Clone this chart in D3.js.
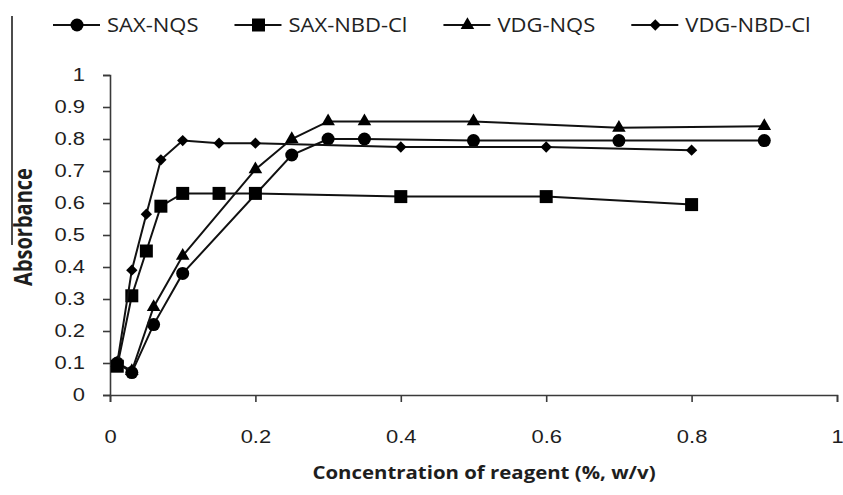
<!DOCTYPE html>
<html>
  <head>
    <meta charset="utf-8">
    <title>Absorbance vs concentration of reagent</title>
    <script src="https://cdnjs.cloudflare.com/ajax/libs/d3/7.8.5/d3.min.js"></script>
    <style>
      body { margin: 0; background: #fff; }
      svg { display: block; font-family: "Open Sans", sans-serif; }
      .axis path, .axis line { stroke: #3a3a3a; stroke-width: 1.6; }
      .axis text { font-size: 18px; fill: #1e1e1e; }
      .series path.line { fill: none; stroke: #111; stroke-width: 2; }
      .legend text { font-size: 20px; fill: #222; }
    </style>
  </head>
  <body>
    <svg id="chart" width="843" height="495"></svg>
    <script>
      // data
      var seriesNames = ["SAX-NQS", "SAX-NBD-Cl", "VDG-NQS", "VDG-NBD-Cl"];
      var saxNqsX = [0.01, 0.03, 0.06, 0.1, 0.25, 0.3, 0.35, 0.5, 0.7, 0.9];
      var saxNqsY = [0.10, 0.07, 0.22, 0.38, 0.75, 0.80, 0.80, 0.795, 0.795, 0.795];
      var saxNbdX = [0.01, 0.03, 0.05, 0.07, 0.1, 0.15, 0.2, 0.4, 0.6, 0.8];
      var saxNbdY = [0.09, 0.31, 0.45, 0.59, 0.63, 0.63, 0.63, 0.62, 0.62, 0.595];
      var vdgNqsX = [0.01, 0.03, 0.06, 0.1, 0.2, 0.25, 0.3, 0.35, 0.5, 0.7, 0.9];
      var vdgNqsY = [0.10, 0.075, 0.275, 0.435, 0.705, 0.80, 0.855, 0.855, 0.855, 0.835, 0.84];
      var vdgNbdX = [0.01, 0.03, 0.05, 0.07, 0.1, 0.15, 0.2, 0.4, 0.6, 0.8];
      var vdgNbdY = [0.10, 0.39, 0.565, 0.735, 0.795, 0.787, 0.787, 0.775, 0.775, 0.765];
      var xTicks = [0, 0.2, 0.4, 0.6, 0.8, 1];
      var yTicks = [0, 0.1, 0.2, 0.3, 0.4, 0.5, 0.6, 0.7, 0.8, 0.9, 1];

      var svg = d3.select("#chart");
      var sx = 1.22; // picture is stretched sideways, so is the text

      var x = d3.scaleLinear().domain([0, 1]).range([110, 837]);
      var y = d3.scaleLinear().domain([0, 1]).range([395, 75]);

      // stray rule at the left edge
      svg.append("line")
        .attr("x1", 12).attr("x2", 12)
        .attr("y1", 16).attr("y2", 245)
        .attr("stroke", "#111").attr("stroke-width", 1.5);

      // axes
      var yAxis = svg.append("g")
        .attr("class", "axis")
        .attr("transform", "translate(" + x(0) + ",0)")
        .call(d3.axisLeft(y).tickValues(yTicks).tickSize(7).tickSizeOuter(7).tickFormat(d3.format("~g")));
      yAxis.selectAll("text")
        .attr("x", -25 / sx)
        .attr("transform", "scale(" + sx + ",1)");

      var xAxis = svg.append("g")
        .attr("class", "axis")
        .attr("transform", "translate(0," + y(0) + ")")
        .call(d3.axisBottom(x).tickValues(xTicks).tickSize(7).tickSizeOuter(7).tickFormat(d3.format("~g")));
      xAxis.selectAll("text")
        .attr("y", 48)
        .attr("dy", 0)
        .attr("transform", "scale(" + sx + ",1)");

      // axis titles
      svg.append("text")
        .attr("transform", "translate(23,227) rotate(-90) scale(1,1.25)")
        .attr("text-anchor", "middle")
        .attr("dy", "0.35em")
        .style("font-size", "20px")
        .style("font-weight", "bold")
        .style("fill", "#1e1e1e")
        .text("Absorbance");
      svg.append("text")
        .attr("transform", "translate(484,479) scale(1.2,1)")
        .attr("text-anchor", "middle")
        .style("font-size", "17px")
        .style("font-weight", "bold")
        .style("fill", "#1e1e1e")
        .text("Concentration of reagent (%, w/v)");

      // series
      var symbols = [
        d3.symbol().type(d3.symbolCircle).size(133),
        d3.symbol().type(d3.symbolSquare).size(169),
        d3.symbol().type(d3.symbolTriangle).size(80),
        d3.symbol().type(d3.symbolSquare).size(64)
      ];
      var rotations = [0, 0, 0, 45];
      var series = [
        { name: seriesNames[0], xs: saxNqsX, ys: saxNqsY },
        { name: seriesNames[1], xs: saxNbdX, ys: saxNbdY },
        { name: seriesNames[2], xs: vdgNqsX, ys: vdgNqsY },
        { name: seriesNames[3], xs: vdgNbdX, ys: vdgNbdY }
      ];
      var line = d3.line()
        .x(function(d) { return x(d[0]); })
        .y(function(d) { return y(d[1]); });

      series.forEach(function(s, i) {
        var pts = s.xs.map(function(v, j) { return [v, s.ys[j]]; });
        var g = svg.append("g").attr("class", "series");
        g.append("path")
          .attr("class", "line")
          .attr("d", line(pts));
        g.selectAll(".mark")
          .data(pts)
          .enter().append("path")
            .attr("class", "mark")
            .attr("d", symbols[i])
            .attr("fill", "#000")
            .attr("transform", function(d) {
              return "translate(" + x(d[0]) + "," + y(d[1]) + ") rotate(" + rotations[i] + ")";
            });
      });

      // legend, laid out left to right
      var legend = svg.append("g").attr("class", "legend");
      var cursor = 53;
      seriesNames.forEach(function(name, i) {
        var item = legend.append("g").attr("transform", "translate(" + cursor + ",25)");
        item.append("line")
          .attr("x1", 0).attr("x2", 47)
          .attr("stroke", "#111").attr("stroke-width", 2);
        item.append("path")
          .attr("d", symbols[i])
          .attr("fill", "#000")
          .attr("transform", "translate(24,0) rotate(" + rotations[i] + ")");
        var t = item.append("text")
          .attr("x", 54 / 1.1)
          .attr("dy", "0.35em")
          .attr("transform", "scale(1.1,1)")
          .text(name);
        cursor += 54 + t.node().getComputedTextLength() * 1.1 + 36;
      });
    </script>
  </body>
</html>
